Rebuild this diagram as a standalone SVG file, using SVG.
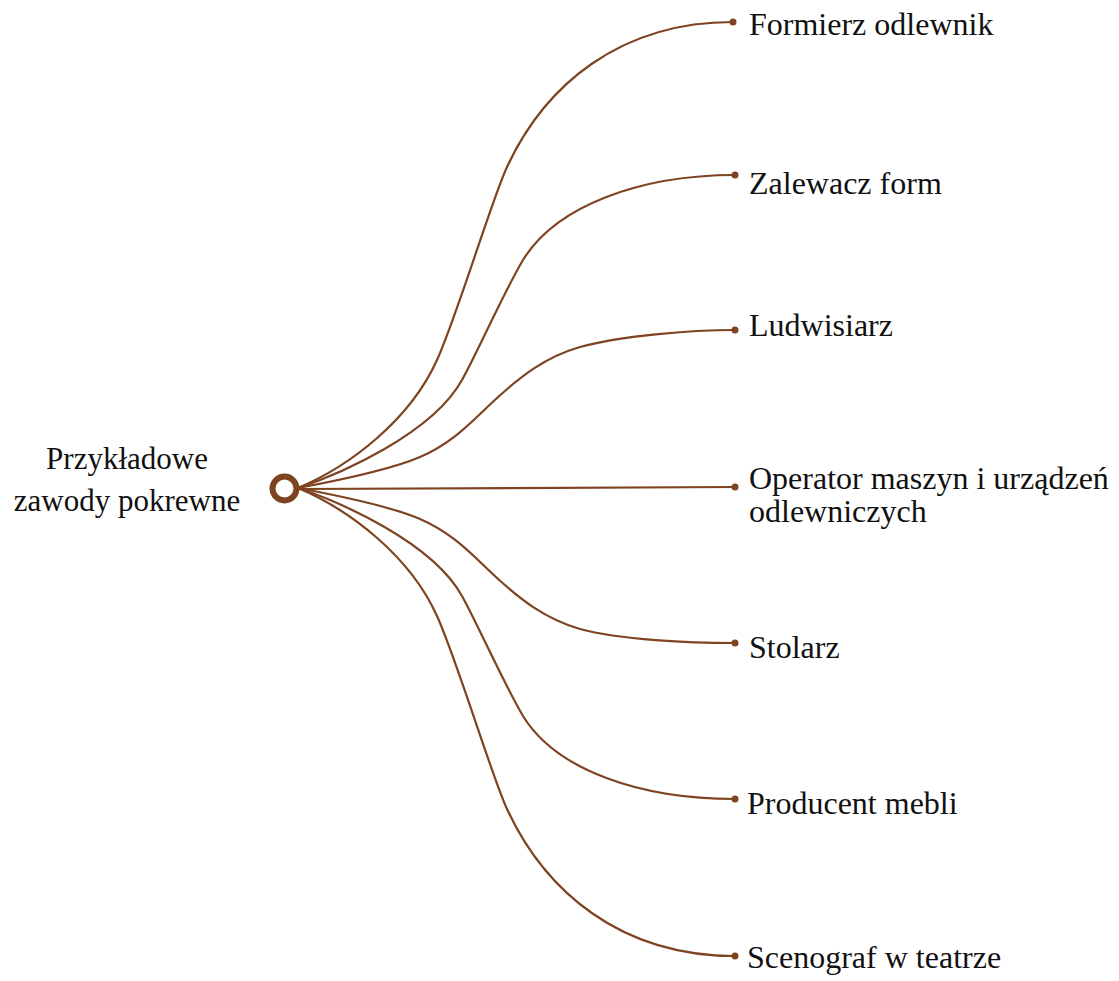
<svg xmlns="http://www.w3.org/2000/svg" width="1119" height="981" viewBox="0 0 1119 981">
<style>
.c{fill:none;stroke:#7e4320;stroke-width:2.2;stroke-linecap:round}
.d{fill:#7e4320}
.t{font-family:"Liberation Serif","Times New Roman",serif;font-size:32px;fill:#111}
.r{font-family:"Liberation Serif","Times New Roman",serif;font-size:31px;fill:#111;text-anchor:middle}
</style>
<rect width="1119" height="981" fill="#fff"/>
<g id="connectors">
<path class="c" d="M298,488 C350,466 410,420 437,360 C457,316 492,199 507,167 C545,85 620,22 733,22"/>
<path class="c" d="M298,488 C340,474 432,434 462,380 C477,353 505,290 523,260 C556,206 640,175 735,175"/>
<path class="c" d="M298,488 C330,482 390,470 420,457 C455,442 475,418 497,398 C520,377 545,357 580,347 C620,336 690,330 735,330"/>
<path class="c" d="M298,489 L735,487"/>
<path class="c" d="M298,488 C330,494 390,506 420,519 C455,534 475,558 497,578 C520,599 545,619 580,629 C620,640 690,643 735,643"/>
<path class="c" d="M298,488 C340,502 432,542 462,596 C477,623 505,686 523,716 C556,770 640,799 735,799"/>
<path class="c" d="M298,488 C350,510 410,556 437,616 C457,660 492,777 507,809 C545,891 620,956 735,956"/>
</g>
<g id="root">
<circle cx="284.5" cy="488.5" r="12" fill="#fff" stroke="#7e4320" stroke-width="6"/>
<text class="r" x="127" y="469">Przykładowe</text>
<text class="r" x="127" y="511">zawody pokrewne</text>
</g>
<g id="n1"><circle class="d" cx="733" cy="22" r="3.5"/><text class="t" x="749" y="35">Formierz odlewnik</text></g>
<g id="n2"><circle class="d" cx="735" cy="175" r="3.5"/><text class="t" x="749" y="194">Zalewacz form</text></g>
<g id="n3"><circle class="d" cx="735" cy="330" r="3.5"/><text class="t" x="749" y="336">Ludwisiarz</text></g>
<g id="n4"><circle class="d" cx="735" cy="487" r="3.5"/><text class="t" x="749" y="489">Operator maszyn i urządzeń</text><text class="t" x="749" y="522">odlewniczych</text></g>
<g id="n5"><circle class="d" cx="735" cy="643" r="3.5"/><text class="t" x="749" y="658">Stolarz</text></g>
<g id="n6"><circle class="d" cx="735" cy="799" r="3.5"/><text class="t" x="747" y="814">Producent mebli</text></g>
<g id="n7"><circle class="d" cx="735" cy="956" r="3.5"/><text class="t" x="747" y="968">Scenograf w teatrze</text></g>
</svg>
